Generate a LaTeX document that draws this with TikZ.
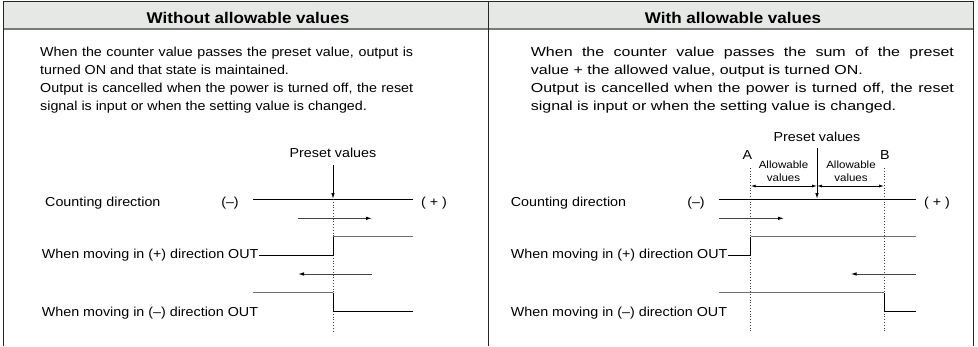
\documentclass[tikz,border=0pt]{standalone}
\usepackage{fontspec}
\setmainfont{Liberation Sans}[FakeStretch=1.1]
\newfontfamily\widefont{Liberation Sans}[FakeStretch=1.23]
\usetikzlibrary{arrows.meta}
\definecolor{hdr}{HTML}{E6E8E6}
\definecolor{hline}{HTML}{7A7A7A}
\definecolor{highc}{HTML}{6E6E6E}
\definecolor{arrc}{HTML}{444444}
\begin{document}
\begin{tikzpicture}[x=1pt,y=-1pt,
  frame/.style={line width=1.3pt,black!85},
  hdrtxt/.style={inner sep=0pt,font=\fontsize{15.5}{18}\selectfont\bfseries},
  body/.style={inner sep=0pt,anchor=base west,font=\fontsize{13}{16}\selectfont},
  wbody/.style={inner sep=0pt,anchor=base west,font=\fontsize{13}{16}\widefont},
  lbl/.style={inner sep=0pt,font=\fontsize{13}{16}\selectfont},
  small/.style={inner sep=0pt,align=center,font=\fontsize{10.5}{13.3}\selectfont},
  low/.style={line width=1pt,black},
  high/.style={line width=1.3pt,highc},
  axis/.style={line width=1pt,black},
  dir/.style={line width=1pt,arrc,-{Latex[length=6pt,width=3.6pt,black]}},
  dim/.style={line width=0.8pt,black,{Latex[length=5pt,width=3pt]}-{Latex[length=5pt,width=3pt]}},
  guide/.style={line width=0.8pt,dotted,black!75},
  pv/.style={line width=1pt,black,-{Latex[length=6pt,width=3.6pt]}}
]
\useasboundingbox (0,0) rectangle (978,346);
% frame
\fill[hdr] (3.3,1.8) rectangle (973.3,29);
\draw[hline,line width=1.7pt] (3.3,29) -- (973.3,29);
\draw[frame] (3.3,346) -- (3.3,1.8) -- (973.3,1.8) -- (973.3,346);
\draw[frame] (488.3,1.8) -- (488.3,346);
% headers
\node[hdrtxt] (h1) at (248,17.5) {Without allowable values};
\node[hdrtxt] (h2) at (733,17.5) {With allowable values};
% left paragraph
\node[body] (l1) at (40,56) {\makebox[373pt][s]{When the counter value passes the preset value, output is}};
\node[body] (l2) at (40,74) {turned ON and that state is maintained.};
\node[body] (l3) at (40,92) {\makebox[373pt][s]{Output is cancelled when the power is turned off, the reset}};
\node[body] (l4) at (40,110) {signal is input or when the setting value is changed.};
% right paragraph
\node[wbody] (r1) at (530.7,56) {\makebox[423pt][s]{When the counter value passes the sum of the preset}};
\node[wbody] (r2) at (530.7,74) {value + the allowed value, output is turned ON.};
\node[wbody] (r3) at (530.7,92) {\makebox[423pt][s]{Output is cancelled when the power is turned off, the reset}};
\node[wbody] (r4) at (530.7,110) {signal is input or when the setting value is changed.};

% ===== left diagram =====
\node[lbl,anchor=base] (pvL) at (333,157.5) {Preset values};
\coordinate (pvLtop) at (333,165);
\coordinate (cL0) at (253,199);
\coordinate (cL1) at (413,199);
\coordinate (xL) at (333,199);
\node[lbl,anchor=base west] (cdL) at (45,206) {Counting direction};
\node[lbl,anchor=base] (mnL) at (230,206) {(–)};
\node[lbl,anchor=base] (plL) at (434,206) {( + )};
\draw[axis] (cL0) -- (cL1);
\draw[guide] (xL) -- (333,332);
\draw[pv] (pvLtop) -- (xL);
\draw[dir] (298,218.3) coordinate (raL0) -- (372,218.3) coordinate (raL1);
\node[lbl,anchor=base west] (poL) at (41.7,258.5) {When moving in (+) direction OUT};
\coordinate (upL) at (333,255);
\draw[low] (poL.east) -- (poL.east -| upL) -- (333,236.7);
\draw[high] (333,236.7) -- (413,236.7);
\draw[dir] (372,274) coordinate (laL0) -- (298,274) coordinate (laL1);
\draw[high] (253,292.7) -- (333,292.7);
\draw[low] (333,292.7) -- (333,311) -- (413,311);
\node[lbl,anchor=base west] (moL) at (41.7,316.5) {When moving in (–) direction OUT};

% ===== right diagram =====
\node[lbl,anchor=base] (pvR) at (817,141) {Preset values};
\coordinate (pvRtop) at (817,148);
\coordinate (cR0) at (719,199);
\coordinate (cR1) at (915.7,199);
\coordinate (xR) at (817,199);
\coordinate (A) at (750.7,186);
\coordinate (B) at (884,186);
\coordinate (M) at (817,186);
\node[lbl,anchor=base] (Alab) at (747.5,159) {A};
\node[lbl,anchor=base] (Blab) at (885,159) {B};
\node[small] (av1) at (783.5,171.5) {Allowable\\values};
\node[small] (av2) at (851,171.5) {Allowable\\values};
\draw[guide] (750.7,168) -- (750.7,332);
\draw[guide] (884,168) -- (884,332);
\draw[dim] (A) -- (M);
\draw[dim] (M) -- (B);
\draw[pv] (pvRtop) -- (xR);
\node[lbl,anchor=base west] (cdR) at (510.7,206) {Counting direction};
\node[lbl,anchor=base] (mnR) at (696,206) {(–)};
\node[lbl,anchor=base] (plR) at (937,206) {( + )};
\draw[axis] (cR0) -- (cR1);
\draw[dir] (719,218.3) -- (784,218.3);
\node[lbl,anchor=base west] (poR) at (510.7,258.5) {When moving in (+) direction OUT};
\coordinate (upR) at (750.7,255);
\draw[low] (poR.east) -- (poR.east -| upR) -- (750.7,236.7);
\draw[high] (750.7,236.7) -- (915.7,236.7);
\draw[dir] (915.7,274) -- (850.7,274);
\draw[high] (719,292.7) -- (884,292.7);
\draw[low] (884,292.7) -- (884,311) -- (915.7,311);
\node[lbl,anchor=base west] (moR) at (510.7,316.5) {When moving in (–) direction OUT};
\end{tikzpicture}
\end{document}
